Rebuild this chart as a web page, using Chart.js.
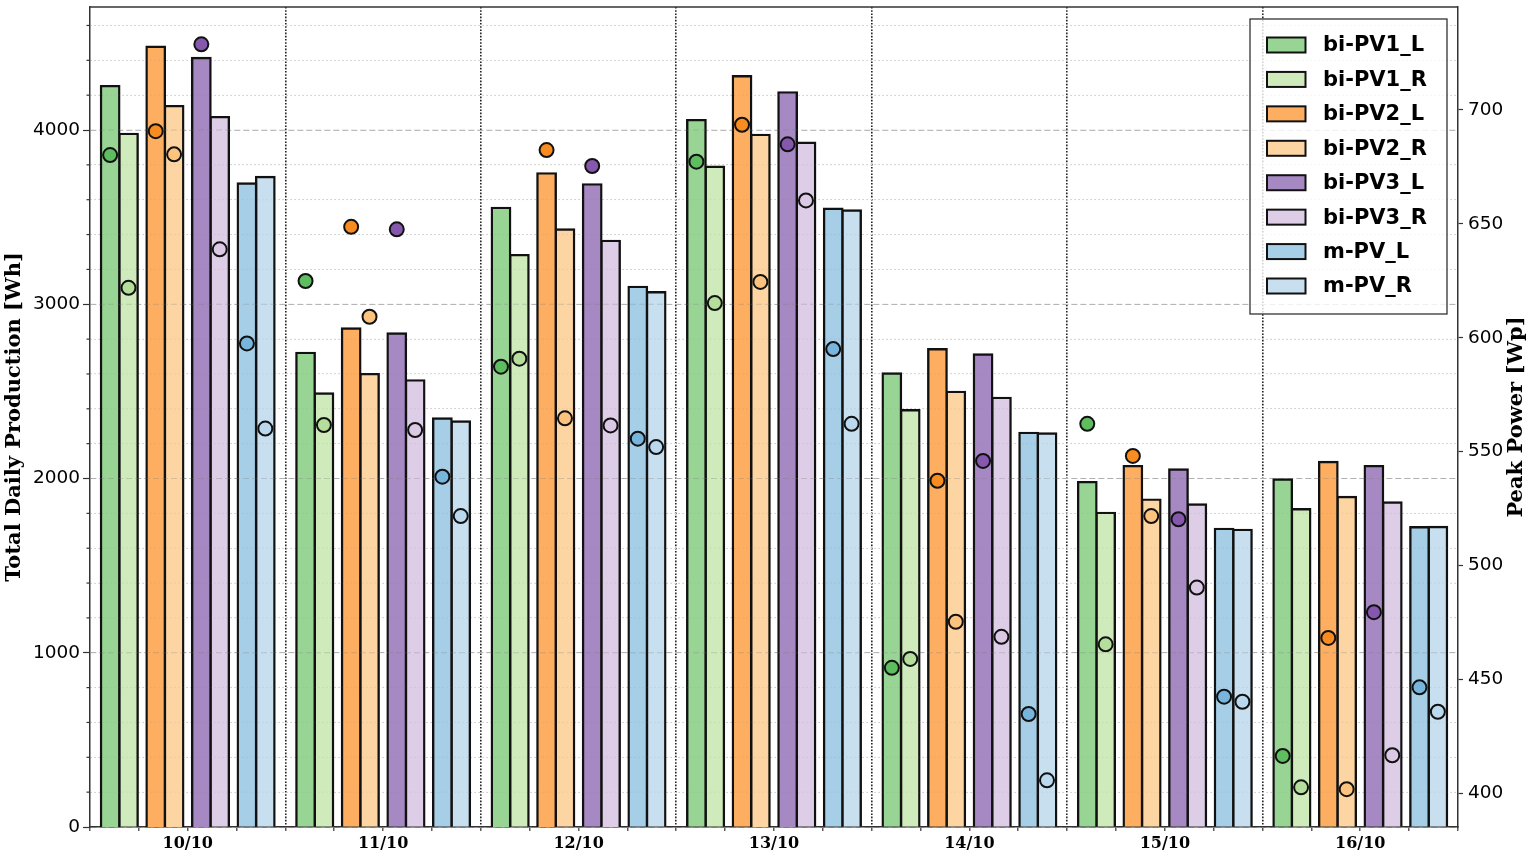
<!DOCTYPE html>
<html>
<head>
<meta charset="utf-8">
<script src="https://cdn.jsdelivr.net/npm/chart.js@4.4.0/dist/chart.umd.min.js"></script>
<style>
html,body{margin:0;padding:0;background:#fff;}
#wrap{width:1535px;height:857px;position:relative;}
</style>
</head>
<body>
<div id="wrap"><canvas id="c"></canvas></div>
<script>
// ---- data ----
const days = ['10/10', '11/10', '12/10', '13/10', '14/10', '15/10', '16/10'];
const seriesNames = ['bi-PV1_L', 'bi-PV1_R', 'bi-PV2_L', 'bi-PV2_R', 'bi-PV3_L', 'bi-PV3_R', 'm-PV_L', 'm-PV_R'];

// Total daily production [Wh]
const prodPV1L = [4252, 2721, 3553, 4057, 2603, 1979, 1994];
const prodPV1R = [3978, 2488, 3282, 3789, 2392, 1803, 1824];
const prodPV2L = [4478, 2861, 3751, 4309, 2742, 2071, 2095];
const prodPV2R = [4137, 2599, 3429, 3972, 2497, 1879, 1894];
const prodPV3L = [4413, 2832, 3688, 4216, 2712, 2052, 2071];
const prodPV3R = [4074, 2563, 3364, 3927, 2463, 1851, 1862];
const prodMPVL = [3693, 2344, 3100, 3548, 2262, 1711, 1720];
const prodMPVR = [3730, 2327, 3069, 3538, 2258, 1705, 1722];

// Peak power [Wp]
const peakPV1L = [680.2, 624.9, 587.3, 677.3, 455.1, 562.2, 416.4];
const peakPV1R = [621.9, 561.7, 590.8, 615.2, 459.0, 465.4, 402.6];
const peakPV2L = [690.7, 648.7, 682.4, 693.5, 537.2, 548.1, 468.2];
const peakPV2R = [680.5, 609.2, 564.6, 624.5, 475.3, 521.7, 401.8];
const peakPV3L = [728.8, 647.6, 675.4, 684.9, 545.9, 520.3, 479.5];
const peakPV3R = [638.8, 559.5, 561.5, 660.3, 468.7, 490.3, 416.7];
const peakMPVL = [597.5, 539.0, 555.7, 595.0, 434.8, 442.4, 446.5];
const peakMPVR = [560.1, 521.7, 552.0, 562.2, 405.7, 440.2, 435.8];

// ---- styling / layout ----
const production = [prodPV1L, prodPV1R, prodPV2L, prodPV2R, prodPV3L, prodPV3R, prodMPVL, prodMPVR];
const peak = [peakPV1L, peakPV1R, peakPV2L, peakPV2R, peakPV3L, peakPV3R, peakMPVL, peakMPVR];
const barColors = ['#98d594', '#d0ebbb', '#fdae61', '#fdd5a3', '#a689c3', '#ddcde6', '#a6cee6', '#c8dff0'];
const pointColors = ['#5ebd5e', '#b5dd9c', '#f98c20', '#fcc37f', '#8558ad', '#dac8e4', '#78b5dd', '#bad8ee'];
const pairOffsets = [-0.35, -0.1167, 0.1167, 0.35];
const halfBar = 0.047;
function xOffset(k) { return pairOffsets[Math.floor(k / 2)] + (k % 2 ? halfBar : -halfBar); }

const datasets = [];
seriesNames.forEach((name, k) => {
  datasets.push({
    type: 'bar', label: name, xAxisID: 'x', yAxisID: 'y',
    data: production[k].map((v, i) => ({ x: i + xOffset(k), y: v })),
    backgroundColor: barColors[k], borderColor: '#111', borderWidth: 2.4,
    inflateAmount: 1.2, grouped: false, categoryPercentage: 1, barPercentage: 1, order: 2
  });
});
seriesNames.forEach((name, k) => {
  datasets.push({
    type: 'scatter', label: name + ' peak', xAxisID: 'x', yAxisID: 'y2',
    data: peak[k].map((v, i) => ({ x: i + xOffset(k), y: v })),
    pointRadius: 7, pointBorderWidth: 2, pointBackgroundColor: pointColors[k],
    pointBorderColor: '#111', showLine: false, order: 1
  });
});

const isInt = v => Math.abs(v - Math.round(v)) < 1e-6;
const isHalf = v => isInt(v + 0.5);

let gridOverlayDone = false;
const decorations = {
  id: 'decorations',
  beforeDatasetsDraw() { gridOverlayDone = false; },
  beforeDatasetDraw(chart, args) {
    // faint grid seen through the bars, drawn before the points
    if (gridOverlayDone || args.meta.type !== 'scatter') return;
    gridOverlayDone = true;
    const { ctx, chartArea: a } = chart;
    const ys = chart.scales.y;
    ctx.save();
    ctx.beginPath(); ctx.rect(a.left, a.top, a.right - a.left, a.bottom - a.top); ctx.clip();
    ys.ticks.forEach(t => {
      if (t.value === 0) return;
      const py = ys.getPixelForValue(t.value);
      const major = t.value % 1000 === 0;
      ctx.strokeStyle = major ? 'rgba(120,120,120,0.28)' : 'rgba(120,120,120,0.14)';
      ctx.lineWidth = 1;
      ctx.setLineDash(major ? [6, 3] : [1.5, 2.5]);
      ctx.beginPath(); ctx.moveTo(a.left, py); ctx.lineTo(a.right, py); ctx.stroke();
    });
    ctx.restore();
  },
  afterDraw(chart) {
    const { ctx, chartArea: a } = chart;
    ctx.save();
    // top spine
    ctx.strokeStyle = '#333'; ctx.lineWidth = 1.5;
    ctx.beginPath(); ctx.moveTo(a.left, a.top); ctx.lineTo(a.right, a.top); ctx.stroke();
    // minor ticks on left axis
    const ys = chart.scales.y;
    ctx.lineWidth = 1.2;
    ys.ticks.forEach(t => {
      if (t.value % 1000 !== 0) {
        const py = ys.getPixelForValue(t.value);
        ctx.beginPath(); ctx.moveTo(a.left - 3.5, py); ctx.lineTo(a.left, py); ctx.stroke();
      }
    });
    // axis titles
    ctx.fillStyle = '#000';
    ctx.font = 'bold 21px "DejaVu Serif"';
    ctx.textAlign = 'center'; ctx.textBaseline = 'middle';
    const cy = (a.top + a.bottom) / 2;
    ctx.save(); ctx.translate(15, cy); ctx.rotate(-Math.PI / 2);
    ctx.fillText('Total Daily Production [Wh]', 0, 0); ctx.restore();
    ctx.save(); ctx.translate(a.right + 59, cy); ctx.rotate(-Math.PI / 2);
    ctx.fillText('Peak Power [Wp]', 0, 0); ctx.restore();
    // legend
    const bars = chart.data.datasets.filter(d => d.type === 'bar');
    const w = 197, h = 295, x0 = a.right - 11 - w, y0 = a.top + 12;
    ctx.fillStyle = 'rgba(255,255,255,0.8)';
    ctx.fillRect(x0, y0, w, h);
    ctx.strokeStyle = '#333'; ctx.lineWidth = 1.3;
    ctx.strokeRect(x0, y0, w, h);
    ctx.font = 'bold 21px "DejaVu Sans"';
    ctx.textAlign = 'left'; ctx.textBaseline = 'middle';
    bars.forEach((d, i) => {
      const ly = y0 + 26 + i * 34.43;
      ctx.fillStyle = d.backgroundColor;
      ctx.fillRect(x0 + 17, ly - 7.5, 38.5, 15);
      ctx.strokeStyle = '#111'; ctx.lineWidth = 2;
      ctx.strokeRect(x0 + 17, ly - 7.5, 38.5, 15);
      ctx.fillStyle = '#000';
      ctx.fillText(d.label, x0 + 73, ly + 1);
    });
    ctx.restore();
  }
};

Chart.defaults.font.family = '"DejaVu Sans"';
Chart.defaults.color = '#000';

new Chart(document.getElementById('c'), {
  type: 'bar',
  data: { datasets },
  options: {
    responsive: true, maintainAspectRatio: false, animation: false,
    layout: { padding: { top: 7, left: 0, right: 0, bottom: 0 }, autoPadding: false },
    plugins: { legend: { display: false }, tooltip: { enabled: false } },
    scales: {
      x: {
        type: 'linear', position: 'bottom', min: -0.5, max: 6.5, offset: false,
        ticks: {
          stepSize: 0.25, autoSkip: false, maxRotation: 0, minRotation: 0, padding: 3,
          font: { family: '"DejaVu Serif"', weight: 'bold', size: 16 }, color: '#000',
          callback: v => isInt(v) ? days[Math.round(v)] : ''
        },
        grid: {
          offset: false, lineWidth: 1.6, tickLength: 4, tickColor: '#333', tickWidth: 1.2,
          color: c => (c.tick && isHalf(c.tick.value) && c.tick.value > -0.4 && c.tick.value < 6.4) ? '#222' : 'rgba(0,0,0,0)'
        },
        border: { display: true, color: '#333', width: 1.5, dash: [1.6, 1.6] },
        afterFit: s => { s.height = 30; s.paddingLeft = 0; s.paddingRight = 0; }
      },
      y: {
        type: 'linear', position: 'left', min: 0, max: 4706,
        ticks: {
          stepSize: 200, includeBounds: false, padding: 3, autoSkip: false,
          font: { size: 18.5 }, color: '#000',
          callback: v => (v % 1000 === 0 ? String(v) : '')
        },
        grid: {
          lineWidth: 1, tickLength: 7, tickWidth: 1.2,
          color: c => (c.tick && c.tick.value % 1000 === 0) ? '#c8c8c8' : '#d6d6d6',
          tickColor: c => (c.tick && c.tick.value % 1000 === 0) ? '#333' : 'rgba(0,0,0,0)'
        },
        border: {
          display: true, color: '#333', width: 1.5,
          dash: c => (!c.tick ? [] : (c.tick.value % 1000 === 0 ? [6, 3] : [1.5, 2.5]))
        },
        afterFit: s => { s.width = 90; s.paddingTop = 0; s.paddingBottom = 0; }
      },
      y2: {
        type: 'linear', position: 'right', min: 385.2, max: 745.2,
        ticks: {
          stepSize: 50, includeBounds: false, padding: 5, font: { size: 18.5 }, color: '#000'
        },
        grid: { drawOnChartArea: false, tickLength: 5, tickColor: '#333', tickWidth: 1.2 },
        border: { display: true, color: '#333', width: 1.5 },
        afterFit: s => { s.width = 77; s.paddingTop = 0; s.paddingBottom = 0; }
      }
    }
  },
  plugins: [decorations]
});
</script>
</body>
</html>
